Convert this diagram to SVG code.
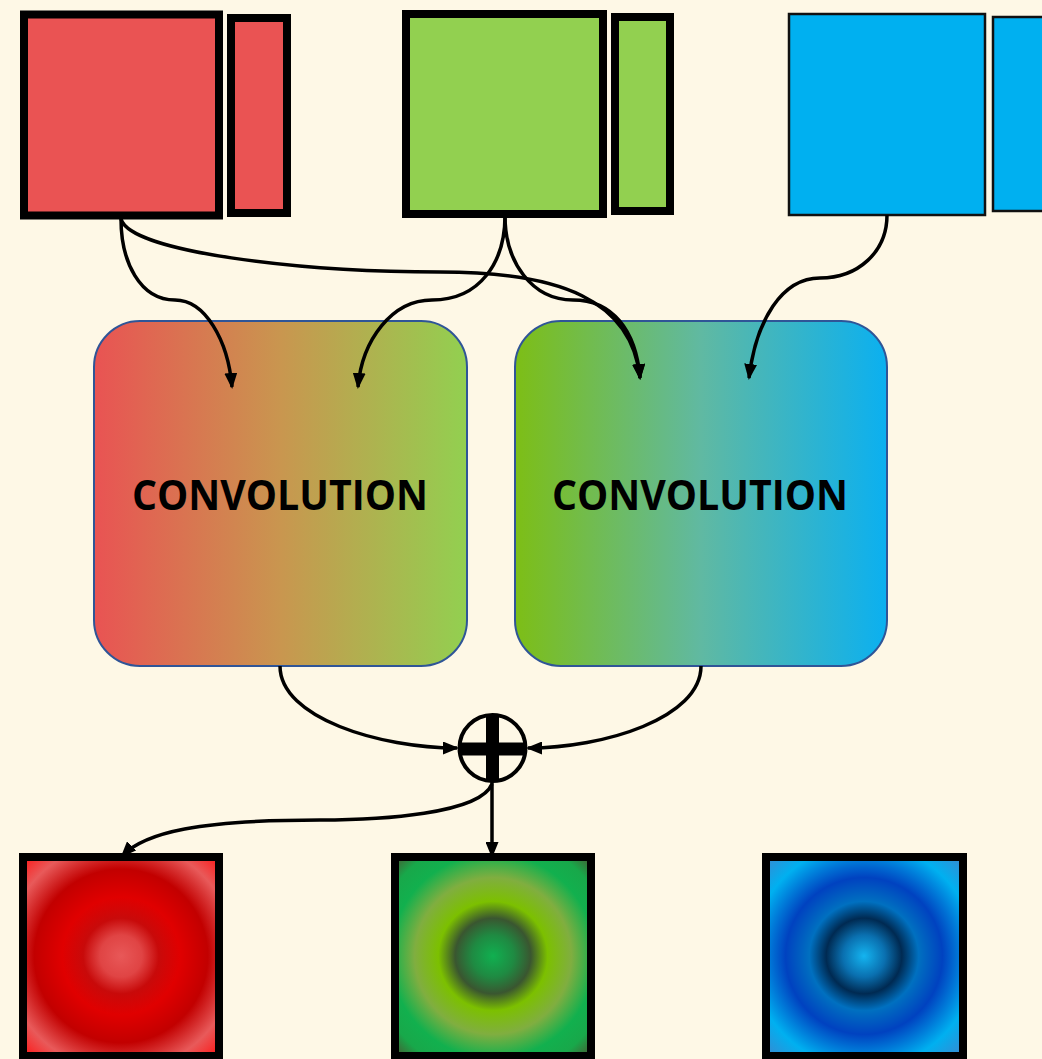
<svg xmlns="http://www.w3.org/2000/svg" width="1042" height="1059" viewBox="0 0 1042 1059">
  <style>
    .bold { stroke: #000; stroke-width: 8; }
    .thin { stroke: #111; stroke-width: 2.5; }
    .conv { stroke: #2F5597; stroke-width: 2; }
    .label { font-family: "Open Sans", "Liberation Sans", sans-serif; font-weight: 700; font-size: 42px; fill: #000; text-anchor: middle; }
    .wire { fill: none; stroke: #000; stroke-width: 3.5; }
  </style>
  <defs>
    <marker id="ah" viewBox="0 0 16 13" refX="14" refY="6.5" markerWidth="16" markerHeight="13" markerUnits="userSpaceOnUse" orient="auto">
      <path d="M0,0 L16,6.5 L0,13 z" fill="#000"/>
    </marker>
    <linearGradient id="gRG" x1="0" y1="0" x2="1" y2="0">
      <stop offset="0" stop-color="#E95353"/>
      <stop offset="0.5" stop-color="#C9964F"/>
      <stop offset="1" stop-color="#92D050"/>
    </linearGradient>
    <linearGradient id="gGB" x1="0" y1="0" x2="1" y2="0">
      <stop offset="0" stop-color="#7DBE16"/>
      <stop offset="0.5" stop-color="#60B9A2"/>
      <stop offset="1" stop-color="#0BB0F0"/>
    </linearGradient>
    <radialGradient id="rRed" cx="121" cy="956" r="140" gradientUnits="userSpaceOnUse">
      <stop offset="0" stop-color="#E85858"/>
      <stop offset="0.15" stop-color="#E04444"/>
      <stop offset="0.27" stop-color="#C80A0A"/>
      <stop offset="0.42" stop-color="#E00000"/>
      <stop offset="0.62" stop-color="#C20000"/>
      <stop offset="0.82" stop-color="#E85A5A"/>
      <stop offset="1" stop-color="#FF1414"/>
    </radialGradient>
    <radialGradient id="rGreen" cx="493" cy="956" r="140" gradientUnits="userSpaceOnUse">
      <stop offset="0" stop-color="#10B050"/>
      <stop offset="0.15" stop-color="#1F8A42"/>
      <stop offset="0.27" stop-color="#3A5630"/>
      <stop offset="0.39" stop-color="#7CC000"/>
      <stop offset="0.56" stop-color="#80AE40"/>
      <stop offset="0.73" stop-color="#12B04E"/>
      <stop offset="0.86" stop-color="#18A84A"/>
      <stop offset="1" stop-color="#4A5530"/>
    </radialGradient>
    <radialGradient id="rBlue" cx="864" cy="956" r="140" gradientUnits="userSpaceOnUse">
      <stop offset="0" stop-color="#14B4F0"/>
      <stop offset="0.15" stop-color="#0A70B0"/>
      <stop offset="0.27" stop-color="#002A52"/>
      <stop offset="0.39" stop-color="#0070C0"/>
      <stop offset="0.56" stop-color="#0042C0"/>
      <stop offset="0.8" stop-color="#00B0F0"/>
      <stop offset="1" stop-color="#3A88D0"/>
    </radialGradient>
  </defs>

  <rect width="1042" height="1059" fill="#FEF8E6"/>

  <!-- input feature maps -->
  <g id="in-red">
    <rect class="bold" x="24" y="14.5" width="195" height="201" fill="#EA5353"/>
    <rect class="bold" x="231" y="18" width="56" height="195" fill="#EA5353"/>
  </g>
  <g id="in-green">
    <rect class="bold" x="406" y="14" width="197" height="200" fill="#92D050"/>
    <rect class="bold" x="615" y="17" width="55" height="194" fill="#92D050"/>
  </g>
  <g id="in-blue">
    <rect class="thin" x="789" y="14" width="196" height="201" fill="#00B0F0"/>
    <rect class="thin" x="993" y="17" width="60" height="194" fill="#00B0F0"/>
  </g>

  <!-- convolution blocks -->
  <g id="conv-left">
    <rect class="conv" x="94" y="321" width="373" height="345" rx="46" ry="46" fill="url(#gRG)"/>
    <text class="label" x="280" y="510" textLength="296" lengthAdjust="spacingAndGlyphs">CONVOLUTION</text>
  </g>
  <g id="conv-right">
    <rect class="conv" x="515" y="321" width="372" height="345" rx="46" ry="46" fill="url(#gGB)"/>
    <text class="label" x="700" y="510" textLength="296" lengthAdjust="spacingAndGlyphs">CONVOLUTION</text>
  </g>

  <!-- summation -->
  <g id="sum">
    <circle cx="492.5" cy="748" r="33" fill="none" stroke="#000" stroke-width="4"/>
    <rect x="486" y="715" width="13" height="67" fill="#000"/>
    <rect x="459" y="742.5" width="67" height="13" fill="#000"/>
  </g>

  <!-- output maps -->
  <g id="out-red">
    <rect class="bold" x="23" y="857" width="196" height="199" fill="url(#rRed)"/>
  </g>
  <g id="out-green">
    <rect class="bold" x="395" y="857" width="196" height="199" fill="url(#rGreen)"/>
  </g>
  <g id="out-blue">
    <rect class="bold" x="766" y="857" width="197" height="199" fill="url(#rBlue)"/>
  </g>

  <!-- connectors -->
  <g id="connectors">
    <path class="wire" marker-end="url(#ah)" d="M121,219 C121,262 140,300 175,300 C205,300 228,340 232,387"/>
    <path class="wire" marker-end="url(#ah)" d="M121,219 C130,252 300,272 440,272 C560,272 632,300 640,378"/>
    <path class="wire" marker-end="url(#ah)" d="M505,216 C505,262 480,300 432,300 C392,300 362,340 358,387"/>
    <path class="wire" marker-end="url(#ah)" d="M505,216 C505,262 532,300 573,300 C612,300 636,330 640,378"/>
    <path class="wire" marker-end="url(#ah)" d="M887,215 C887,252 858,278 820,278 C782,278 756,320 749,378"/>
    <path class="wire" marker-end="url(#ah)" d="M280,666 C280,718 380,748 457,748"/>
    <path class="wire" marker-end="url(#ah)" d="M701,666 C701,718 604,748 528,748"/>
    <path class="wire" marker-end="url(#ah)" d="M492,782 L492,856"/>
    <path class="wire" marker-end="url(#ah)" d="M492,784 C480,814 380,820 320,820 C200,820 145,832 122,856"/>
  </g>
</svg>
